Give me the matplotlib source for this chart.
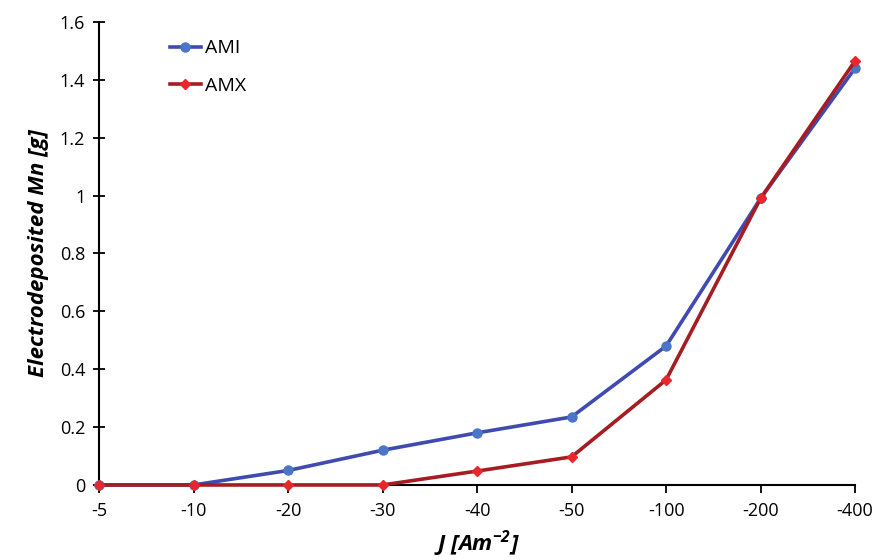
import matplotlib
matplotlib.use("Agg")
import matplotlib.pyplot as plt

plt.rcParams['font.family'] = ['Open Sans', 'DejaVu Sans']
plt.rcParams['mathtext.default'] = 'regular'

categories = ['-5', '-10', '-20', '-30', '-40', '-50', '-100', '-200', '-400']
ami = [0.0, 0.0, 0.05, 0.12, 0.18, 0.235, 0.48, 0.99, 1.44]
amx = [0.0, 0.0, 0.0, 0.0, 0.048, 0.097, 0.363, 0.99, 1.465]

fig = plt.figure(figsize=(8.77, 5.6), dpi=100)
ax = fig.add_axes([0.113, 0.134, 0.862, 0.827])

x = range(len(categories))
ax.plot(x, ami, color='#3F4BB0', lw=2.6, marker='o', ms=6.5,
        mfc='#4A76C8', mec='#4A76C8', label='AMI', zorder=3, clip_on=False)
ax.plot(x, amx, color='#A51D22', lw=2.6, marker='D', ms=5.5,
        mfc='#E8262B', mec='#E8262B', label='AMX', zorder=4, clip_on=False)

ax.set_xlim(0, len(categories) - 1)
ax.set_ylim(0, 1.6)
ax.set_xticks(list(x))
ax.set_xticklabels(categories)
ax.set_yticks([0, 0.2, 0.4, 0.6, 0.8, 1, 1.2, 1.4, 1.6])
ax.set_yticklabels(['0', '0.2', '0.4', '0.6', '0.8', '1', '1.2', '1.4', '1.6'])

for s in ['top', 'right']:
    ax.spines[s].set_visible(False)
for s in ['left', 'bottom']:
    ax.spines[s].set_linewidth(1.5)
    ax.spines[s].set_color('black')

ax.tick_params(axis='y', direction='inout', length=8, width=1.3, labelsize=13, pad=6)
ax.tick_params(axis='x', direction='out', length=6, width=1.3, labelsize=13, pad=6)

ax.set_ylabel('Electrodeposited Mn [g]', fontsize=16, fontweight='bold',
              fontstyle='italic', labelpad=8)
ax.set_xlabel('J [Am$^{-2}$]', fontsize=16, fontweight='bold',
              fontstyle='italic', labelpad=6)

ax.legend(loc='upper left', bbox_to_anchor=(0.07, 1.0), frameon=False,
          fontsize=14, handlelength=1.6, labelspacing=1.0, handletextpad=0.2)

fig.savefig('out.png', dpi=100)
